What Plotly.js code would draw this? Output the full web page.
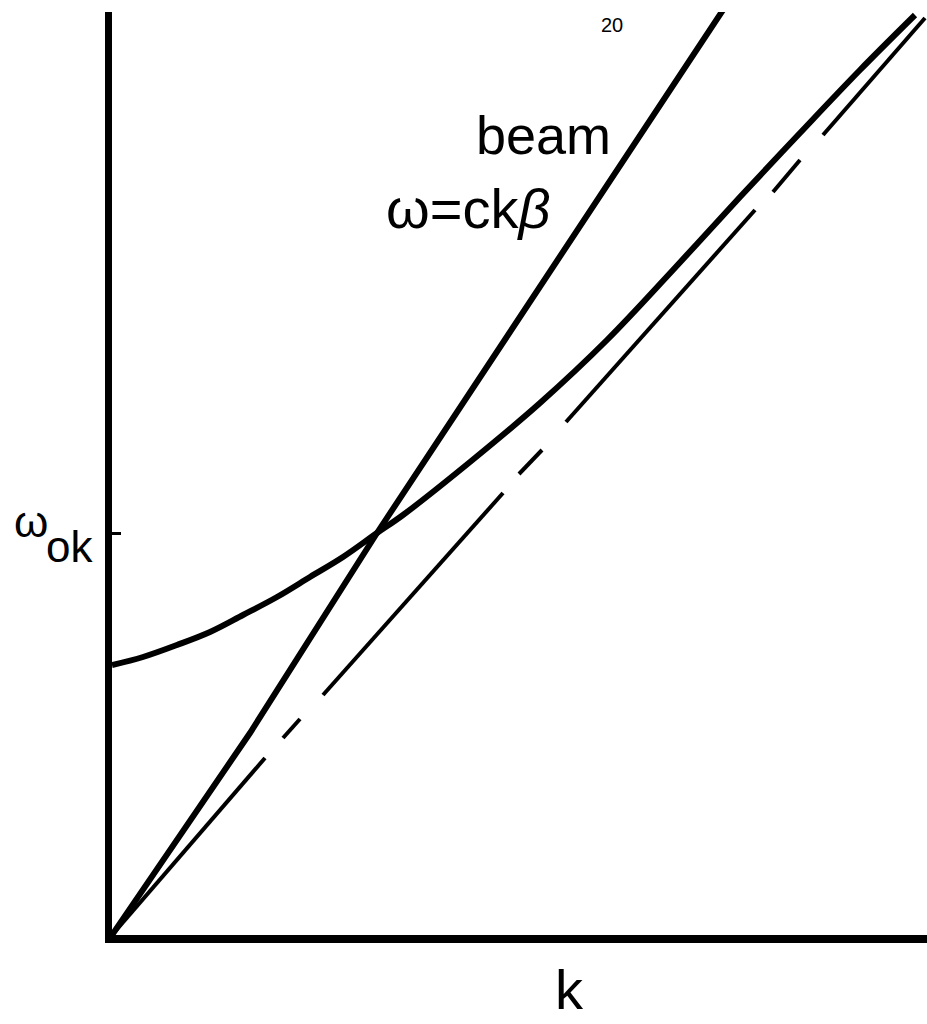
<!DOCTYPE html>
<html>
<head>
<meta charset="utf-8">
<script src="https://cdn.plot.ly/plotly-3.0.1.min.js"></script>
<style>
  html, body { margin: 0; padding: 0; background: #fff; }
  #fig { width: 927px; height: 1024px; }
</style>
</head>
<body>
<div id="fig"></div>
<script>
"use strict";
// dispersion sketch: plasma branch, beam line and light line
// units: 1 unit = 100 px of the original drawing, origin at the axes corner

// plasma branch  w^2 = w_p^2 + c^2 k^2
const curveK = [0, 0.31, 0.65, 0.98, 1.31, 1.65, 1.98, 2.31, 2.65, 2.91,
                3.58, 4.28, 4.95, 5.61, 6.28, 6.88, 7.48, 8.03];
const curveW = [2.70, 2.78, 2.90, 3.03, 3.20, 3.38, 3.58, 3.78, 4.02, 4.20,
                4.73, 5.32, 5.95, 6.65, 7.38, 8.02, 8.65, 9.20];

// beam line  w = c k beta
const beamK = [0, 1.38, 2.65, 4.53, 6.11];
const beamW = [0, 2.02, 4.02, 6.85, 9.25];

// light line w = c k, drawn with broken pieces (null = gap)
const lightK = [0, 1.53, null, 1.71, 1.88, null, 2.11, 3.91, null, 4.07, 4.30, null,
                4.54, 6.43, null, 6.61, 6.88, null, 7.11, 8.13];
const lightW = [0, 1.77, null, 1.97, 2.16, null, 2.40, 4.42, null, 4.61, 4.85, null,
                5.13, 7.25, null, 7.43, 7.75, null, 8.00, 9.17];

const omegaOk = 4.02;   // crossing point, marked on the w axis

const kMax = 8.15, wMax = 9.23;   // axis ranges
const FONT = "Liberation Sans, Arial, sans-serif";

let traces = [
  {x: curveK, y: curveW, type: 'scatter', mode: 'lines',
   line: {color: '#000', width: 6, shape: 'spline', smoothing: 1.0},
   hoverinfo: 'skip', showlegend: false},
  {x: beamK, y: beamW, type: 'scatter', mode: 'lines',
   line: {color: '#000', width: 6},
   hoverinfo: 'skip', showlegend: false},
  {x: lightK, y: lightW, type: 'scatter', mode: 'lines',
   connectgaps: false,
   line: {color: '#000', width: 4},
   hoverinfo: 'skip', showlegend: false}
];

// labels placed in axis units, converted to paper so they may sit outside the plot
function note(k, w, txt, size, yanch) {
  return {x: k / kMax, y: w / wMax, xref: 'paper', yref: 'paper',
          text: txt, showarrow: false,
          xanchor: 'center', yanchor: yanch || 'middle',
          font: {family: FONT, size: size, color: '#000'}};
}

let layout = {
  width: 927, height: 1024,
  margin: {l: 112, r: 0, t: 12, b: 89},
  paper_bgcolor: '#fff', plot_bgcolor: '#fff',
  showlegend: false,
  xaxis: {range: [0, kMax], showgrid: false, zeroline: false,
          showline: true, linecolor: '#000', linewidth: 8,
          ticks: '', showticklabels: false, fixedrange: true},
  yaxis: {range: [0, wMax], showgrid: false, zeroline: false,
          showline: true, linecolor: '#000', linewidth: 7,
          tickmode: 'array', tickvals: [omegaOk], ticktext: [''],
          ticks: 'inside', ticklen: 9, tickwidth: 3, tickcolor: '#000',
          showticklabels: false, fixedrange: true},
  annotations: [
    note(5.00, 9.10, '20', 20),
    note(4.31, 8.00, 'beam', 54),
    note(3.56, 7.27, 'ω=ck<i>β</i>', 56),
    note(-0.81, 4.14, 'ω', 44),
    note(-0.43, 3.89, 'ok', 44),
    note(4.57, -0.88, 'k', 56, 'bottom')
  ]
};

Plotly.newPlot('fig', traces, layout, {staticPlot: true, displayModeBar: false});
</script>
</body>
</html>
